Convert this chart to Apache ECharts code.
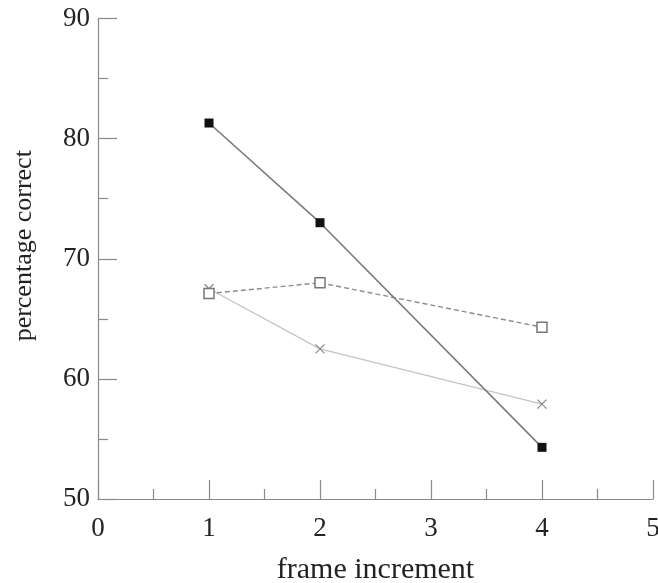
<!DOCTYPE html>
<html>
<head>
<meta charset="utf-8">
<script src="https://cdn.jsdelivr.net/npm/echarts@6/dist/echarts.min.js"></script>
<style>html,body{margin:0;padding:0;background:#fff}#c{width:658px;height:583px}</style>
</head>
<body>
<div id="c"></div>
<script>
var xValues = [1, 2, 4];
var filledSquare = [81.3, 73.0, 54.3];
var openSquare = [67.1, 68.0, 64.3];
var crosses = [67.5, 62.5, 57.9];
var xTicks = [0, 1, 2, 3, 4, 5];
var yTicks = [50, 60, 70, 80, 90];

function pairs(xs, ys) { return xs.map(function (x, i) { return [x, ys[i]]; }); }

var font = 'Liberation Serif';
var axisColor = '#8a8a8a';
var chart = echarts.init(document.getElementById('c'));
chart.setOption({
  animation: false,
  backgroundColor: '#fff',
  grid: { left: 98, right: 5, top: 18.5, bottom: 84, containLabel: false, outerBoundsMode: 'none' },
  xAxis: {
    type: 'value', min: xTicks[0], max: xTicks[xTicks.length - 1], interval: 1,
    name: 'frame increment', nameLocation: 'middle', nameGap: 56,
    nameTextStyle: { fontFamily: font, fontSize: 30, color: '#222' },
    axisLine: { show: true, lineStyle: { color: axisColor, width: 1.2 } },
    axisTick: { show: true, inside: true, length: 19, lineStyle: { color: axisColor, width: 1.2 } },
    minorTick: { show: true, splitNumber: 2, length: 10, lineStyle: { color: axisColor, width: 1.2 } },
    splitLine: { show: false },
    axisLabel: { fontFamily: font, fontSize: 27, color: '#222', margin: 16 }
  },
  yAxis: {
    type: 'value', min: yTicks[0], max: yTicks[yTicks.length - 1], interval: 10,
    name: 'percentage correct', nameLocation: 'middle', nameGap: 61, nameRotate: 90,
    nameTextStyle: { fontFamily: font, fontSize: 26, color: '#222', padding: [0, 0, 0, 26] },
    axisLine: { show: true, lineStyle: { color: axisColor, width: 1.2 } },
    axisTick: { show: true, inside: true, length: 19, lineStyle: { color: axisColor, width: 1.2 } },
    minorTick: { show: true, splitNumber: 2, length: 10, lineStyle: { color: axisColor, width: 1.2 } },
    splitLine: { show: false },
    axisLabel: { fontFamily: font, fontSize: 27, color: '#222', margin: 8 }
  },
  series: [
    {
      type: 'line', data: pairs(xValues, filledSquare),
      symbol: 'rect', symbolSize: 9,
      itemStyle: { color: '#111' },
      lineStyle: { color: '#7a7a7a', width: 1.6, type: 'solid' },
      z: 3
    },
    {
      type: 'line', data: pairs(xValues, openSquare),
      symbol: 'rect', symbolSize: 10,
      itemStyle: { color: '#fff', borderColor: '#777', borderWidth: 1.5 },
      lineStyle: { color: '#8c8c8c', width: 1.4, type: [5, 3] },
      z: 2
    },
    {
      type: 'line', data: pairs(xValues, crosses),
      symbol: 'path://M0,0L10,10M10,0L0,10', symbolSize: 9,
      itemStyle: { color: 'rgba(0,0,0,0)', borderColor: '#888', borderWidth: 1.2 },
      lineStyle: { color: '#c4c4c4', width: 1.3, type: 'solid' },
      z: 1
    }
  ]
});
</script>
</body>
</html>
